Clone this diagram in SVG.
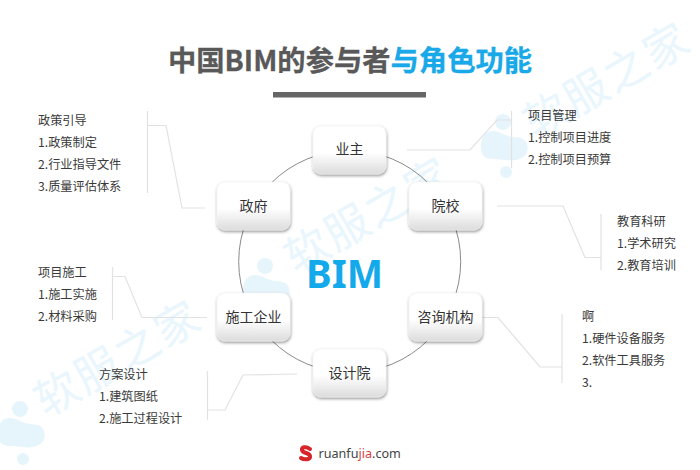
<svg xmlns="http://www.w3.org/2000/svg" width="700" height="470" viewBox="0 0 700 470">
<defs>
<linearGradient id="nodeFill" x1="0" y1="0" x2="0" y2="1"><stop offset="0" stop-color="#fff"/><stop offset="0.55" stop-color="#fff"/><stop offset="1" stop-color="#dcdcdc"/></linearGradient>
<filter id="shadow" x="-20%" y="-20%" width="140%" height="150%"><feDropShadow dx="0.500" dy="1.500" stdDeviation="1.500" flood-color="#000" flood-opacity="0.45"/></filter>
<g id="blob"><circle cx="0" cy="-16" r="8"/><path d="M-22 8C-22 -8 -10 -10 0 -4C12 2 20 -4 24 6C28 20 14 24 2 22C-12 20 -22 24 -22 8Z"/><circle cx="3" cy="34" r="6"/></g>
</defs>
<style>
text{font-family:"Noto Sans CJK SC","Noto Sans",sans-serif}
.wm{font-size:44px;letter-spacing:2px;fill:#e9f6fd}
.wb{fill:#e6f5fc}
.t{font-size:12.2px;fill:#3a3a3a}
.n{font-size:14px;fill:#333;text-anchor:middle}
.box{fill:url(#nodeFill);filter:url(#shadow);stroke:#f0f0f0;stroke-width:.5}
.c{fill:none;stroke:#e2e2e2;stroke-width:1.2}
</style>
<rect width="700" height="470" fill="#fff"/>
<g id="watermark">
<use href="#blob" x="20" y="425" class="wb"/>
<use href="#blob" x="265" y="282" class="wb"/>
<use href="#blob" x="503" y="138" class="wb"/>
<text class="wm" transform="translate(46 418) rotate(-30)">软服之家</text>
<text class="wm" transform="translate(296 275) rotate(-30)">软服之家</text>
<text class="wm" transform="translate(535 140) rotate(-30)">软服之家</text>
</g>
<g id="title">
<text x="168" y="71" font-size="28.300" font-weight="700" fill="#595959" stroke="#595959" stroke-width=".3">中国BIM的参与者<tspan fill="#1aa9e8" stroke="#1aa9e8">与角色功能</tspan></text>
<rect x="273" y="92" width="153" height="5.500" fill="#666"/>
</g>
<g id="connectors">
<circle cx="349.700" cy="261.500" r="111" fill="none" stroke="#8a8a8a" stroke-width="1"/>
<path class="c" d="M147.500 111V193M147.500 125.500H166L182 208H205"/>
<path class="c" d="M511.500 111V168M407 150H470L497 120H511.500"/>
<path class="c" d="M497 206H563L585 257.500H601M601 214V270"/>
<path class="c" d="M112.500 267V320M112.500 276.500H125L142 317.500H207"/>
<path class="c" d="M207.500 371V420M207.500 410H225L243 375L297 374"/>
<path class="c" d="M475 317.500H498L540 367H562M562 314V383"/>
</g>
<text x="344.500" y="287.500" font-size="38.500" font-weight="700" fill="#14a9ea" text-anchor="middle" style="font-family:'Noto Sans',sans-serif">BIM</text>
<g id="node-yezhu"><rect class="box" x="313" y="126" width="73" height="48" rx="8"/><text class="n" x="349.500" y="154">业主</text></g>
<g id="node-zhengfu"><rect class="box" x="217" y="182" width="73" height="48" rx="8"/><text class="n" x="253.500" y="211">政府</text></g>
<g id="node-yuanxiao"><rect class="box" x="409" y="182" width="73" height="48" rx="8"/><text class="n" x="445.500" y="211">院校</text></g>
<g id="node-shigong"><rect class="box" x="217" y="293" width="73" height="48" rx="8"/><text class="n" x="253.500" y="322">施工企业</text></g>
<g id="node-zixun"><rect class="box" x="409" y="293" width="73" height="48" rx="8"/><text class="n" x="445.500" y="322">咨询机构</text></g>
<g id="node-sheji"><rect class="box" x="313" y="349" width="73" height="48" rx="8"/><text class="n" x="349.500" y="378">设计院</text></g>
<g id="label-zhengfu"><text class="t" x="38" y="125">政策引导</text><text class="t" x="38" y="147">1.政策制定</text><text class="t" x="38" y="169">2.行业指导文件</text><text class="t" x="38" y="191">3.质量评估体系</text></g>
<g id="label-yezhu"><text class="t" x="528" y="120">项目管理</text><text class="t" x="528" y="142">1.控制项目进度</text><text class="t" x="528" y="164">2.控制项目预算</text></g>
<g id="label-yuanxiao"><text class="t" x="617" y="226">教育科研</text><text class="t" x="617" y="248">1.学术研究</text><text class="t" x="617" y="270">2.教育培训</text></g>
<g id="label-zixun"><text class="t" x="582" y="321">啊</text><text class="t" x="582" y="343">1.硬件设备服务</text><text class="t" x="582" y="365">2.软件工具服务</text><text class="t" x="582" y="387">3.</text></g>
<g id="label-shigong"><text class="t" x="38" y="277">项目施工</text><text class="t" x="38" y="299">1.施工实施</text><text class="t" x="38" y="321">2.材料采购</text></g>
<g id="label-sheji"><text class="t" x="99" y="379">方案设计</text><text class="t" x="99" y="401">1.建筑图纸</text><text class="t" x="99" y="423">2.施工过程设计</text></g>
<g id="logo">
<path d="M310 449C306 446 301 447 302 450C303 454 309 452 310 456C311 460 304 460 301 458" fill="none" stroke="#d6262c" stroke-width="4" stroke-linecap="round"/>
<text x="318.500" y="458" font-size="12.600" fill="#444" style="font-family:'Noto Sans',sans-serif">ruanfu<tspan fill="#d6403f">jia</tspan>.com</text>
</g>
</svg>
